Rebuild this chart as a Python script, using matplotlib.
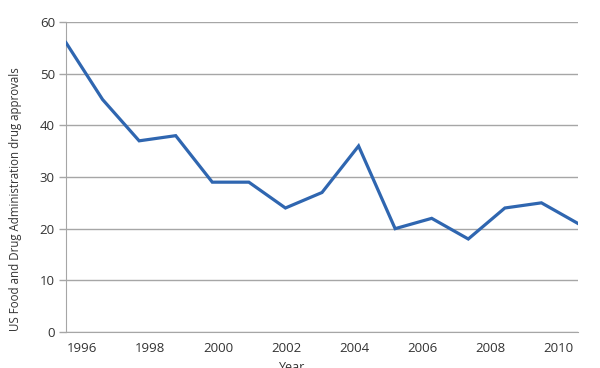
import matplotlib
matplotlib.use("Agg")
import matplotlib.pyplot as plt
from matplotlib import font_manager

years = [1996, 1997, 1998, 1999, 2000, 2001, 2002, 2003, 2004, 2005, 2006, 2007, 2008, 2009, 2010]
approvals = [56, 45, 37, 38, 29, 29, 24, 27, 36, 20, 22, 18, 24, 25, 21]
tick_years = [1996, 1998, 2000, 2002, 2004, 2006, 2008, 2010]
y_ticks = [0, 10, 20, 30, 40, 50, 60]

names = {f.name for f in font_manager.fontManager.ttflist}
fam = "Liberation Sans Narrow" if "Liberation Sans Narrow" in names else "Open Sans"
plt.rcParams["font.family"] = [fam, "DejaVu Sans"]

fig = plt.figure(figsize=(6, 3.68), dpi=100)
ax = fig.add_axes([66/600, 1-332/368, (578-66)/600, (332-22)/368])

idx = list(range(len(years)))
ax.plot(idx, approvals, color="#2f66b0", lw=2.3, solid_joinstyle="miter", zorder=3)
ax.set_xlim(0, len(years)-1)
ax.set_ylim(0, 60)
ax.set_yticks(y_ticks)
ax.yaxis.grid(True, color="#a6a6a6", lw=1)
ax.set_axisbelow(True)

# label axis: category labels spaced on a separate numeric scale
span = 15.06
start = 1995.53
tpos = [(y - start) / span * (len(years)-1) for y in tick_years]
ax.set_xticks(tpos)
ax.set_xticklabels([str(y) for y in tick_years])
ax.tick_params(axis="x", length=0, pad=7, labelsize=9.5, colors="#333333")
ax.tick_params(axis="y", length=5, width=1, color="#a6a6a6", pad=3, labelsize=9.5, labelcolor="#333333")

for s in ["top", "right"]:
    ax.spines[s].set_visible(False)
ax.spines["left"].set_color("#a6a6a6")
ax.spines["bottom"].set_color("#a6a6a6")

fig.text(292/600, 1-361/368, "Year", ha="center", va="top", fontsize=9, color="#333333")
fig.text(16/600, 1-199/368, "US Food and Drug Administration drug approvals", rotation=90,
         ha="center", va="center", fontsize=8.3, color="#333333")

fig.savefig("out.png", dpi=100)
